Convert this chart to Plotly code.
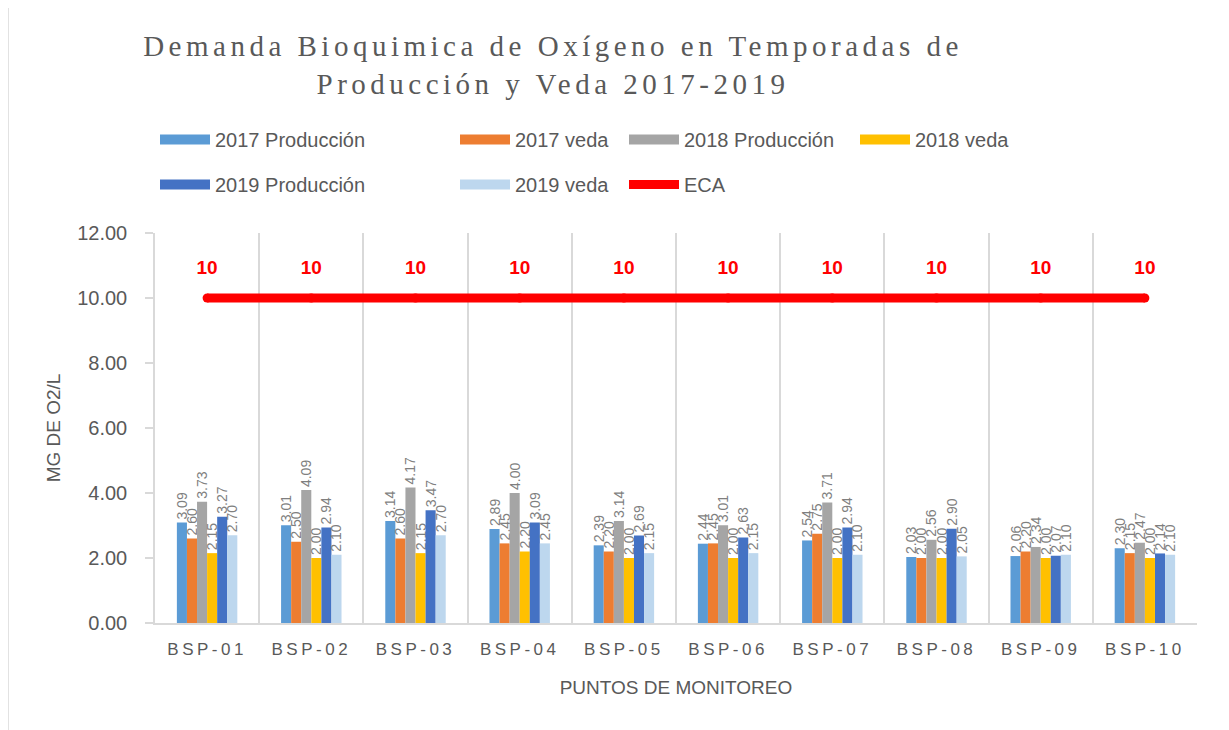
import plotly.graph_objects as go

categories = ["BSP-01", "BSP-02", "BSP-03", "BSP-04", "BSP-05",
              "BSP-06", "BSP-07", "BSP-08", "BSP-09", "BSP-10"]
prod_2017 = [3.09, 3.01, 3.14, 2.89, 2.39, 2.44, 2.54, 2.03, 2.06, 2.30]
veda_2017 = [2.60, 2.50, 2.60, 2.45, 2.20, 2.45, 2.75, 2.00, 2.20, 2.15]
prod_2018 = [3.73, 4.09, 4.17, 4.00, 3.14, 3.01, 3.71, 2.56, 2.34, 2.47]
veda_2018 = [2.15, 2.00, 2.15, 2.20, 2.00, 2.00, 2.00, 2.00, 2.00, 2.00]
prod_2019 = [3.27, 2.94, 3.47, 3.09, 2.69, 2.63, 2.94, 2.90, 2.07, 2.14]
veda_2019 = [2.70, 2.10, 2.70, 2.45, 2.15, 2.15, 2.10, 2.05, 2.10, 2.10]
eca = [10] * 10
y_ticks = [0, 2, 4, 6, 8, 10, 12]

series = [
    ("2017 Producción", prod_2017, "#5B9BD5", "legend"),
    ("2017 veda", veda_2017, "#ED7D31", "legend2"),
    ("2018 Producción", prod_2018, "#A5A5A5", "legend3"),
    ("2018 veda", veda_2018, "#FFC000", "legend4"),
    ("2019 Producción", prod_2019, "#4472C4", "legend"),
    ("2019 veda", veda_2019, "#BDD7EE", "legend2"),
]

SANS = "Liberation Sans, Arial, sans-serif"
GREY = "#595959"
OFF = 8  # page body offset

fig = go.Figure()
for i, (name, vals, color, lg) in enumerate(series):
    fig.add_trace(go.Bar(
        x=categories, y=vals, name=name, marker_color=color,
        marker_line_width=0,
        text=[f"{v:.2f}" for v in vals], textposition="outside",
        textangle=-90, constraintext="none", cliponaxis=False,
        textfont=dict(family=SANS, size=14, color="#7F7F7F"),
        showlegend=False, legendgroup=name,
    ))
    # legend proxy drawing a wide rectangular swatch
    fig.add_trace(go.Scatter(
        x=[None], y=[None], name=name, mode="lines",
        line=dict(color=color, width=15),
        legend=lg, legendgroup=name,
    ))

fig.add_trace(go.Scatter(
    x=categories, y=eca, name="ECA", mode="lines+markers",
    line=dict(color="#FF0000", width=9),
    marker=dict(color="#FF0000", size=9),
    legend="legend3", legendgroup="ECA",
))
fig.add_trace(go.Scatter(
    x=categories, y=eca, mode="markers+text", showlegend=False,
    marker=dict(size=30, color="rgba(0,0,0,0)"),
    text=[str(v) for v in eca], textposition="top center",
    textfont=dict(family=SANS, size=19, color="#FF0000", weight="bold"),
    hoverinfo="skip", cliponaxis=False,
))

leg_common = dict(
    orientation="v", yanchor="top", xanchor="left",
    font=dict(family=SANS, size=20, color=GREY), tracegroupgap=16,
    bgcolor="rgba(0,0,0,0)", traceorder="grouped", itemwidth=50,
)
PL, PW, PT, PH = 155 - OFF, 1042, 233 - OFF, 390


def px_x(px):
    return (px - OFF - PL) / PW


def px_y(py):
    return (PT + PH - (py - OFF)) / PH


fig.update_layout(
    width=1229, height=730,
    paper_bgcolor="white", plot_bgcolor="white",
    margin=dict(l=PL, r=1229 - PL - PW, t=PT, b=730 - PT - PH, autoexpand=False),
    barmode="group", bargap=0.42, bargroupgap=0,
    title=dict(
        text='<span style="letter-spacing:4.5px">Demanda Bioquimica de Oxígeno en Temporadas de<br>Producción y Veda 2017-2019</span>',
        font=dict(family="Liberation Serif, Times New Roman, serif", size=29, color=GREY),
        x=(553 - OFF) / 1229, xanchor="center",
        y=1 - 48 / 730, yanchor="top",
    ),
    legend=dict(x=px_x(215 - 60), y=px_y(120), **leg_common),
    legend2=dict(x=px_x(515 - 60), y=px_y(120), **leg_common),
    legend3=dict(x=px_x(684 - 60), y=px_y(120), **leg_common),
    legend4=dict(x=px_x(915 - 60), y=px_y(120), **leg_common),
    xaxis=dict(
        type="category", showgrid=False,
        showline=True, linecolor="#D9D9D9", linewidth=1.5,
        ticks="", tickmode="array", tickvals=categories,
        ticktext=[f'<span style="letter-spacing:3.5px">{c}</span>' for c in categories],
        tickfont=dict(family=SANS, size=17, color=GREY),
        ticklabelstandoff=10,
        title=dict(text="PUNTOS DE MONITOREO", font=dict(family=SANS, size=19, color=GREY),
                   standoff=23),
        range=[-0.5, 9.5],
    ),
    xaxis2=dict(
        overlaying="x", range=[-0.5, 9.5], tick0=-0.5, dtick=1,
        showgrid=True, gridcolor="#D9D9D9", gridwidth=1.5,
        showticklabels=False, zeroline=False, showline=False, ticks="",
    ),
    yaxis=dict(
        range=[0, 12], tickmode="array", tickvals=y_ticks, tickformat=".2f",
        showgrid=False, zeroline=False,
        showline=True, linecolor="#D9D9D9", linewidth=1.5,
        ticks="outside", ticklen=8, tickcolor="#D9D9D9", tickwidth=1.5,
        tickfont=dict(family=SANS, size=20, color=GREY),
        ticklabelstandoff=14,
        title=dict(text="MG DE O2/L", font=dict(family=SANS, size=19, color=GREY),
                   standoff=12),
    ),
    shapes=[dict(
        type="rect", xref="paper", yref="paper",
        x0=px_x(8), x1=px_x(1226), y0=px_y(737), y1=px_y(5),
        line=dict(color="#D9D9D9", width=1.5), layer="below",
    )],
)
# invisible trace to activate the boundary grid axis
fig.add_trace(go.Scatter(x=[0], y=[0], xaxis="x2", mode="markers",
                         marker=dict(opacity=0), showlegend=False, hoverinfo="skip"))

fig.write_html("out.html")
